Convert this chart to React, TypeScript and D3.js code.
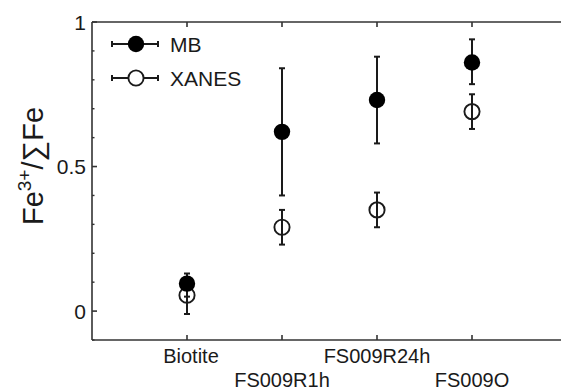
import React from "react";
import * as d3 from "d3";

const categories = ["Biotite", "FS009R1h", "FS009R24h", "FS009O"];
const mbValues = [0.095, 0.62, 0.73, 0.86];
const mbLow = [0.05, 0.40, 0.58, 0.785];
const mbHigh = [0.13, 0.84, 0.88, 0.94];
const xanesValues = [0.055, 0.29, 0.35, 0.69];
const xanesLow = [-0.01, 0.23, 0.29, 0.63];
const xanesHigh = [0.11, 0.35, 0.41, 0.75];
const yMajorTicks = [0, 0.5, 1];
const yTickLabels = ["0", "0.5", "1"];
const yMinorTicks = [-0.1, 0.1, 0.2, 0.3, 0.4, 0.6, 0.7, 0.8, 0.9];
const seriesNames = ["MB", "XANES"];

const W = 561;
const H = 391;
const FONT = "'Liberation Sans', Arial, sans-serif";
const INK = "#1a1a1a";
const AXIS = "#333";

export default function App() {
  const x = d3.scaleLinear().domain([-1, 4]).range([92, 567]);
  const y = d3.scaleLinear().domain([-0.1, 1]).range([340, 22]);
  const left = x(-1);
  const right = x(4);
  const top = y(1);
  const bottom = y(-0.1);

  const series = [
    { name: seriesNames[0], v: mbValues, lo: mbLow, hi: mbHigh, filled: true },
    { name: seriesNames[1], v: xanesValues, lo: xanesLow, hi: xanesHigh, filled: false },
  ];

  const capW = 3;

  return (
    <svg
      width={W}
      height={H}
      style={{ position: "absolute", left: 0, top: 0, background: "#fff" }}
    >
      <rect x={0} y={0} width={W} height={H} fill="#fff" />
      {/* frame */}
      <line x1={left} y1={top} x2={right} y2={top} stroke={AXIS} strokeWidth={1.6} />
      <line x1={left} y1={bottom} x2={right} y2={bottom} stroke={AXIS} strokeWidth={1.6} />
      <line x1={left} y1={top} x2={left} y2={bottom} stroke={AXIS} strokeWidth={1.6} />
      <line x1={right} y1={top} x2={right} y2={bottom} stroke={AXIS} strokeWidth={1.6} />

      {/* y ticks */}
      {yMajorTicks.map((t, i) => (
        <g key={"ym" + i}>
          <line x1={left} x2={left + 5} y1={y(t)} y2={y(t)} stroke={AXIS} strokeWidth={1.6} />
          <text
            x={left - 6}
            y={y(t)}
            dy="0.36em"
            textAnchor="end"
            fontFamily={FONT}
            fontSize={21}
            fill={INK}
          >
            {yTickLabels[i]}
          </text>
        </g>
      ))}
      {yMinorTicks.map((t, i) => (
        <line key={"yn" + i} x1={left} x2={left + 2.5} y1={y(t)} y2={y(t)} stroke={AXIS} strokeWidth={1.4} />
      ))}

      {/* x ticks */}
      {categories.map((c, i) => (
        <g key={"xt" + i}>
          <line x1={x(i)} x2={x(i)} y1={bottom} y2={bottom - 5} stroke={AXIS} strokeWidth={1.6} />
          <line x1={x(i)} x2={x(i)} y1={top} y2={top + 5} stroke={AXIS} strokeWidth={1.6} />
          <text
            x={x(i)}
            y={i % 2 === 0 ? 363 : 387}
            dx={i === 0 ? 4 : 0}
            textAnchor="middle"
            fontFamily={FONT}
            fontSize={20}
            fill={INK}
          >
            {c}
          </text>
        </g>
      ))}

      {/* y axis title */}
      <text
        transform={`translate(43,166) rotate(-90)`}
        textAnchor="middle"
        fontFamily={FONT}
        fontSize={29}
        fill={INK}
      >
        Fe
        <tspan fontSize={19} dy={-12}>3+</tspan>
        <tspan dy={12}>/∑Fe</tspan>
      </text>

      {/* data */}
      {series
        .slice()
        .reverse()
        .map((s) => (
          <g key={s.name}>
            {s.v.map((v, i) => (
              <g key={i}>
                <line x1={x(i)} x2={x(i)} y1={y(s.lo[i])} y2={y(s.hi[i])} stroke={INK} strokeWidth={2} />
                <line x1={x(i) - capW} x2={x(i) + capW} y1={y(s.lo[i])} y2={y(s.lo[i])} stroke={INK} strokeWidth={2} />
                <line x1={x(i) - capW} x2={x(i) + capW} y1={y(s.hi[i])} y2={y(s.hi[i])} stroke={INK} strokeWidth={2} />
                {s.filled ? (
                  <circle cx={x(i)} cy={y(v)} r={8.2} fill="#000" />
                ) : (
                  <circle cx={x(i)} cy={y(v)} r={7.6} fill="none" stroke={INK} strokeWidth={1.9} />
                )}
              </g>
            ))}
          </g>
        ))}

      {/* legend */}
      {series.map((s, i) => {
        const ly = 44 + i * 34;
        return (
          <g key={"lg" + i}>
            <line x1={112} x2={158} y1={ly} y2={ly} stroke={INK} strokeWidth={2} />
            <line x1={112} x2={112} y1={ly - capW} y2={ly + capW} stroke={INK} strokeWidth={2} />
            <line x1={158} x2={158} y1={ly - capW} y2={ly + capW} stroke={INK} strokeWidth={2} />
            {s.filled ? (
              <circle cx={136} cy={ly} r={8.2} fill="#000" />
            ) : (
              <circle cx={136} cy={ly} r={7.6} fill="#fff" stroke={INK} strokeWidth={1.9} />
            )}
            <text x={170} y={ly} dy="0.36em" fontFamily={FONT} fontSize={21} fill={INK}>
              {s.name}
            </text>
          </g>
        );
      })}
    </svg>
  );
}
